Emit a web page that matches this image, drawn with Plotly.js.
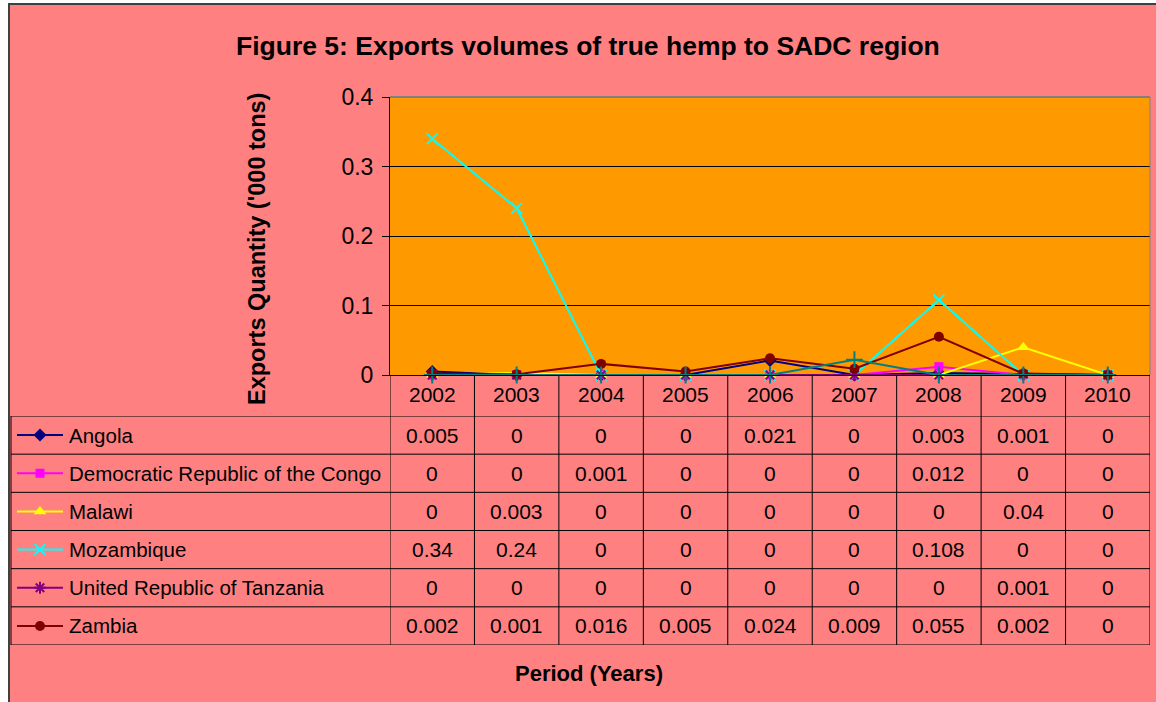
<!DOCTYPE html>
<html><head><meta charset="utf-8">
<script src="https://cdn.plot.ly/plotly-3.0.1.min.js"></script>
<style>html,body{margin:0;padding:0;background:#fff;}#chart{width:1156px;height:702px;}</style>
</head><body><div id="chart"></div>
<script>
// ---- data ----
const years = [2002, 2003, 2004, 2005, 2006, 2007, 2008, 2009, 2010];
const seriesNames = ["Angola", "Democratic Republic of the Congo", "Malawi", "Mozambique", "United Republic of Tanzania", "Zambia"];
const angola     = [0.005, 0, 0, 0, 0.021, 0, 0.003, 0.001, 0];
const drc        = [0, 0, 0.001, 0, 0, 0, 0.012, 0, 0];
const malawi     = [0, 0.003, 0, 0, 0, 0, 0, 0.04, 0];
const mozambique = [0.34, 0.24, 0, 0, 0, 0, 0.108, 0, 0];
const tanzania   = [0, 0, 0, 0, 0, 0, 0, 0.001, 0];
const zambia     = [0.002, 0.001, 0.016, 0.005, 0.024, 0.009, 0.055, 0.002, 0];
// extra plotted series without a table row (teal "+" line)
const unlabelled = [0, 0, 0, 0, 0, 0.022, 0, 0, 0];
const yTicks = [0, 0.1, 0.2, 0.3, 0.4];
const titleText = "Figure 5: Exports volumes of true hemp to SADC region";
const yTitle = "Exports Quantity ('000 tons)";
const xTitle = "Period (Years)";

// ---- styles ----
const W = 1156, H = 702;
const fx = p => p / W, fy = p => 1 - p / H;
const FONT = "Liberation Sans, Arial, sans-serif";
const styles = [
  {color: "#000080", symbol: "diamond", size: 10},
  {color: "#FF00FF", symbol: "square", size: 9},
  {color: "#FFFF00", symbol: "triangle-up", size: 11},
  {color: "#00FFFF", symbol: "x-thin-open", size: 11},
  {color: "#800080", symbol: "asterisk-open", size: 10},
  {color: "#800000", symbol: "circle", size: 10}
];
const allSeries = [angola, drc, malawi, mozambique, tanzania, zambia];

const traces = [];
allSeries.forEach((vals, i) => {
  const s = styles[i];
  traces.push({
    x: years, y: vals, type: "scatter", mode: "lines+markers", name: seriesNames[i],
    line: {color: s.color, width: 2},
    marker: {symbol: s.symbol, size: s.size, color: s.color, line: {color: s.color, width: s.symbol.indexOf("open") >= 0 ? 2 : 0}},
    cliponaxis: false, showlegend: false, hoverinfo: "skip"
  });
});
traces.push({
  x: years, y: unlabelled, type: "scatter", mode: "lines+markers", name: "",
  line: {color: "#008080", width: 2},
  marker: {symbol: "cross-thin-open", size: 12, color: "#008080", line: {color: "#008080", width: 2}},
  cliponaxis: false, showlegend: false, hoverinfo: "skip"
});
// legend keys inside the table rows
allSeries.forEach((vals, i) => {
  const s = styles[i];
  traces.push({x: [17, 63], y: [i + 0.5, i + 0.5], xaxis: "x2", yaxis: "y2", type: "scatter", mode: "lines",
    line: {color: s.color, width: 2}, showlegend: false, hoverinfo: "skip"});
  traces.push({x: [40], y: [i + 0.5], xaxis: "x2", yaxis: "y2", type: "scatter", mode: "markers",
    marker: {symbol: s.symbol, size: s.size, color: s.color, line: {color: s.color, width: s.symbol.indexOf("open") >= 0 ? 2 : 0}},
    showlegend: false, hoverinfo: "skip", cliponaxis: false});
});

const shapes = [];
const annotations = [];
// chart area background with border
shapes.push({type: "rect", xref: "paper", yref: "paper", x0: fx(9), x1: fx(1160), y0: fy(710), y1: fy(4),
  fillcolor: "#FF8080", line: {color: "#404040", width: 2}, layer: "below"});
// orange plot area
shapes.push({type: "rect", xref: "x domain", yref: "y domain", x0: 0, x1: 1, y0: 0, y1: 1,
  fillcolor: "#FF9900", line: {width: 0}, layer: "below"});
// top and right border of plot area (grey)
shapes.push({type: "line", xref: "x domain", yref: "y domain", x0: 0, x1: 1, y0: 1, y1: 1, line: {color: "#808080", width: 2}});
shapes.push({type: "line", xref: "x domain", yref: "y domain", x0: 1, x1: 1, y0: 0, y1: 1, line: {color: "#808080", width: 1}});
// table vertical lines at category boundaries
const boundaries = years.map(y => y - 0.5).concat([years[years.length - 1] + 0.5]);
boundaries.forEach(b => {
  shapes.push({type: "line", xref: "x", yref: "paper", x0: b, x1: b, y0: fy(375), y1: fy(645), line: {color: "#000", width: 1}});
});
// left table border
shapes.push({type: "line", xref: "paper", yref: "y2", x0: fx(11), x1: fx(11), y0: 0, y1: seriesNames.length, line: {color: "#000", width: 1}});
// horizontal row lines
for (let r = 0; r <= seriesNames.length; r++) {
  shapes.push({type: "line", xref: "paper", yref: "y2", x0: fx(11), x1: fx(1150), y0: r, y1: r, line: {color: "#000", width: 1}});
}
const CELL = 21;
// header years
years.forEach(y => {
  annotations.push({x: y, y: fy(394), xref: "x", yref: "paper", text: String(y), showarrow: false,
    xanchor: "center", yanchor: "middle", font: {family: FONT, size: CELL, color: "#000"}});
});
// row names and values
seriesNames.forEach((n, i) => {
  annotations.push({x: fx(67), y: i + 0.5, xref: "paper", yref: "y2", text: n, showarrow: false, xanchor: "left", yanchor: "middle",
    font: {family: FONT, size: 20.5, color: "#000"}});
  allSeries[i].forEach((v, j) => {
    annotations.push({x: years[j], y: i + 0.5, xref: "x", yref: "y2", text: String(v), showarrow: false,
      xanchor: "center", yanchor: "middle", font: {family: FONT, size: CELL, color: "#000"}});
  });
});
// titles
annotations.push({x: fx(588), y: fy(46), xref: "paper", yref: "paper", text: "<b>" + titleText + "</b>", showarrow: false,
  xanchor: "center", yanchor: "middle", font: {family: FONT, size: 26.5, color: "#000"}});
annotations.push({x: fx(257), y: fy(249), xref: "paper", yref: "paper", text: "<b>" + yTitle + "</b>", showarrow: false, textangle: -90,
  xanchor: "center", yanchor: "middle", font: {family: FONT, size: 23.5, color: "#000"}});
annotations.push({x: fx(589), y: fy(673), xref: "paper", yref: "paper", text: "<b>" + xTitle + "</b>", showarrow: false,
  xanchor: "center", yanchor: "middle", font: {family: FONT, size: 22, color: "#000"}});

const layout = {
  width: W, height: H,
  margin: {l: 0, r: 0, t: 0, b: 0},
  paper_bgcolor: "#FFFFFF",
  plot_bgcolor: "rgba(0,0,0,0)",
  showlegend: false,
  hovermode: false,
  xaxis: {domain: [fx(390), fx(1150)], range: [years[0] - 0.5, years[years.length - 1] + 0.5],
    showgrid: false, zeroline: false, showticklabels: false, ticks: "", showline: true, linecolor: "#000", linewidth: 1, fixedrange: true},
  yaxis: {domain: [fy(375), fy(97)], range: [0, 0.4], tickvals: yTicks, ticktext: yTicks.map(String),
    showgrid: true, gridcolor: "#000", gridwidth: 1, zeroline: false, showline: true, linecolor: "#000", linewidth: 1,
    ticks: "outside", ticklen: 7, tickcolor: "#000", ticklabelstandoff: 4,
    tickfont: {family: FONT, size: 23, color: "#000"}, fixedrange: true},
  xaxis2: {domain: [0, fx(390)], range: [0, 390], visible: false, fixedrange: true, anchor: "y2"},
  yaxis2: {domain: [fy(645), fy(416)], range: [seriesNames.length, 0], visible: false, fixedrange: true, anchor: "x2"},
  shapes: shapes,
  annotations: annotations
};
Plotly.newPlot("chart", traces, layout, {displayModeBar: false, staticPlot: true});
</script></body></html>
